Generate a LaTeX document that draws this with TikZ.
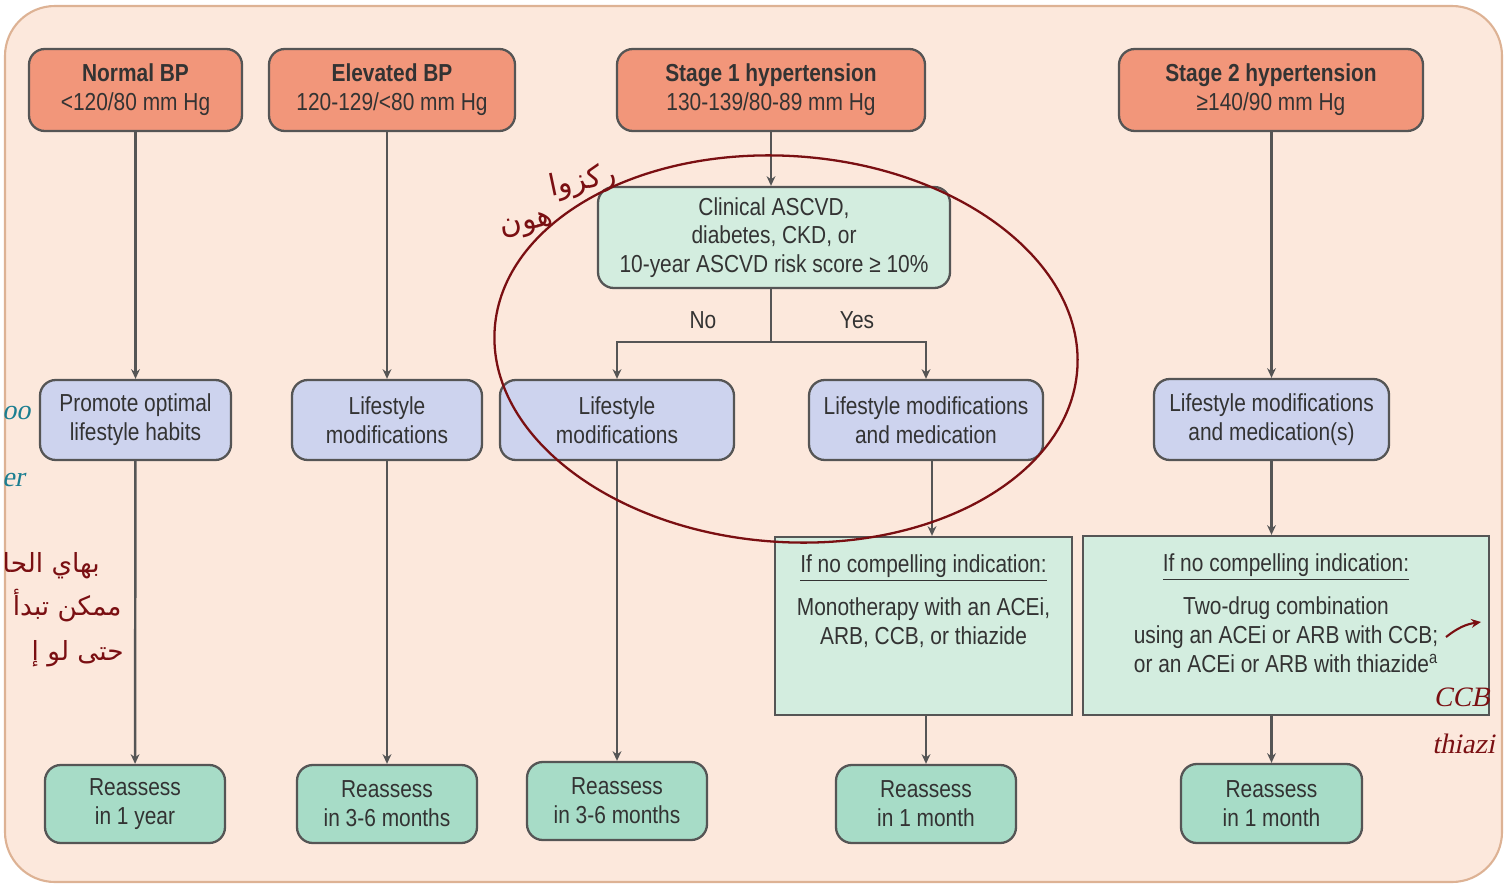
\documentclass[tikz,border=0pt]{standalone}
\usepackage{fontspec}
\setmainfont{Liberation Sans}[FakeStretch=0.85]
\newfontfamily\arabicfont[Script=Arabic]{DejaVu Sans}
\newfontfamily\handfont{Liberation Serif}[FakeSlant=0.2]
\TeXXeTstate=1
\usepackage{tikz}
\usetikzlibrary{arrows.meta, positioning}

\definecolor{panel}{HTML}{FCE8DC}
\definecolor{paneledge}{HTML}{DDB294}
\definecolor{stagefill}{HTML}{F2967A}
\definecolor{askfill}{HTML}{D3EDDF}
\definecolor{lifefill}{HTML}{CDD3EE}
\definecolor{recheck}{HTML}{A7DCC7}
\definecolor{edge}{HTML}{555555}
\definecolor{ink}{HTML}{333333}
\definecolor{pen}{HTML}{7A0F12}
\definecolor{tealpen}{HTML}{1B7E91}

\begin{document}
\begin{tikzpicture}[x=0.02cm, y=-0.02cm,
    >={Stealth[length=5.5pt, width=5pt]},
    sz/.style 2 args={minimum width=#1*0.02cm, minimum height=#2*0.02cm},
    box/.style={draw=edge, line width=1.3pt, rounded corners=9pt, align=center,
        text=ink, inner sep=0pt, font=\fontsize{14}{16.4}\selectfont},
    stagebox/.style={box, fill=stagefill},
    askbox/.style={box, fill=askfill},
    lifebox/.style={box, fill=lifefill},
    drugbox/.style={box, fill=askfill, rounded corners=0pt},
    againbox/.style={box, fill=recheck},
    arr/.style={draw=edge, line width=1.4pt, ->},
    link/.style={draw=edge, line width=1.4pt},
    note/.style={text=ink, font=\fontsize{14}{16.4}\selectfont, align=center},
    scrib/.style={text=pen, font=\arabicfont\fontsize{15}{18}\selectfont},
    hand/.style={font=\handfont\fontsize{16}{19}\selectfont, inner sep=0pt},
]
\useasboundingbox (0,0) rectangle (1504,885);

% Background panel
\draw[fill=panel, draw=paneledge, line width=1.2pt, rounded corners=1cm] (5,6) rectangle (1502,882);

% --- BP categories
\node[stagebox, sz={213}{82}] (normal) at (135.5,90) {\textbf{Normal BP}\\<120/80 mm Hg};
\node[stagebox, sz={246}{82}] (elev) at (392,90) {\textbf{Elevated BP}\\120-129/<80 mm Hg};
\node[stagebox, sz={308}{82}] (stone) at (771,90) {\textbf{Stage 1 hypertension}\\130-139/80-89 mm Hg};
\node[stagebox, sz={304}{82}] (sttwo) at (1271,90) {\textbf{Stage 2 hypertension}\\≥140/90 mm Hg};

% --- Risk question
\node[askbox, sz={352}{101}] (risk) at (774,237.5) {Clinical ASCVD,\\diabetes, CKD, or\\10-year ASCVD risk score ≥ 10\%};
\coordinate (split) at (771,342);
\node[note] (nolbl) at (703,320) {No};
\node[note] (yeslbl) at (857,320) {Yes};

% --- Treatment
\node[lifebox, sz={191}{80}] (habits) at (135.5,420) {Promote optimal\\lifestyle habits};
\node[lifebox, sz={190}{80}] (lifeA) at (387,420) {Lifestyle\\modifications};
\node[lifebox, sz={234}{80}] (lifeB) at (617,420) {Lifestyle\\modifications};
\node[lifebox, sz={234}{80}] (lifeC) at (926,420) {Lifestyle modifications\\and medication};
\node[lifebox, sz={235}{81}] (lifeD) at (1271.5,419.5) {Lifestyle modifications\\and medication(s)};

% --- Drug choice
\node[drugbox, sz={297}{178}] (mono) at (923.5,626) {};
\node[note, below=13*0.02cm of mono.north, anchor=north] (monotxt) {\underline{If no compelling indication:}\\[8pt]Monotherapy with an ACEi,\\ARB, CCB, or thiazide};
\node[drugbox, sz={406}{179}] (combo) at (1286,625.5) {};
\node[note, below=13*0.02cm of combo.north, anchor=north] (combotxt) {\underline{If no compelling indication:}\\[8pt]Two-drug combination\\using an ACEi or ARB with CCB;\\or an ACEi or ARB with thiazide\textsuperscript{a}};

% --- Follow-up
\node[againbox, sz={180}{78}] (yearly) at (135,804) {Reassess\\in 1 year};
\node[againbox, sz={180}{78}] (halfA) at (387,804) {Reassess\\in 3-6 months};
\node[againbox, sz={180}{78}] (halfB) at (617,801) {Reassess\\in 3-6 months};
\node[againbox, sz={180}{78}] (monthA) at (926,804) {Reassess\\in 1 month};
\node[againbox, sz={181}{79}] (monthB) at (1271.5,803.5) {Reassess\\in 1 month};

% Connectors
\draw[arr] (normal) -- (habits);
\draw[arr] (lifeA.north |- elev.south) -- (lifeA);
\draw[arr] (stone.south) -- (stone.south |- risk.north);
\draw[arr] (sttwo.south -| lifeD) -- (lifeD);
\draw[link] (risk.south -| split) -- (split);
\draw[arr] (split) -| (lifeB);
\draw[arr] (split) -| (lifeC);
\draw[arr] (habits) -- (yearly);
\draw[arr] (lifeA) -- (halfA);
\draw[arr] (lifeB) -- (halfB);
\draw[arr] ([xshift=6*0.02cm]lifeC.south) -- ([xshift=6*0.02cm]lifeC.south |- mono.north);
\draw[arr] (mono.south -| monthA) -- (monthA);
\draw[arr] (lifeD.south) -- (lifeD.south |- combo.north);
\draw[arr] (combo.south -| monthB) -- (monthB);

% --- Hand notes
\draw[pen, line width=1.3pt, rotate around={-4:(786,349)}] (786,349) ellipse [x radius=292, y radius=193];
\node[scrib, font=\arabicfont\fontsize{17}{20}\selectfont, rotate=12] (focus) at (583,182) {\beginR ركزوا\endR};
\node[scrib, font=\arabicfont\fontsize{17}{20}\selectfont, rotate=10] (here) at (527,226) {\beginR هون\endR};
\node[scrib, anchor=east, inner sep=0pt] (sideA) at (100,566) {\beginR بهاي الحا\endR};
\node[scrib, anchor=east, inner sep=0pt] (sideB) at (122,606) {\beginR ممكن تبدأ\endR};
\node[scrib, anchor=east, inner sep=0pt] (sideC) at (124,654) {\beginR حتى لو إ\endR};
\node[hand, text=tealpen, anchor=west] (tealA) at (2,413) {oo};
\node[hand, text=tealpen, anchor=west] (tealB) at (2,480) {er};
\node[hand, text=pen] (ccb) at (1462,697) {CCB};
\node[hand, text=pen, anchor=west] (thz) at (1432,744) {thiazi};
\coordinate (penA) at (1446,637);
\coordinate (penB) at (1481,622);
\draw[pen, line width=1.2pt, ->] (penA) to[bend left=15] (penB);

\end{tikzpicture}
\end{document}
